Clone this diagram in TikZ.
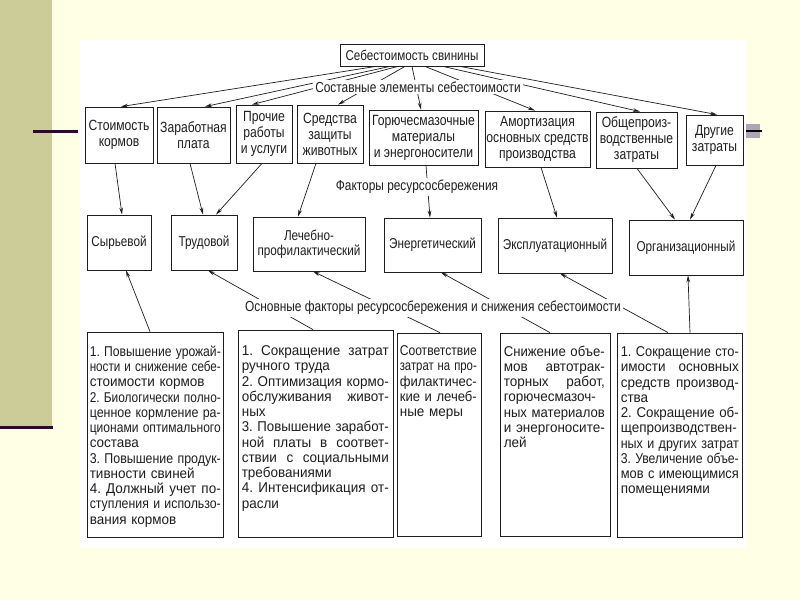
\documentclass[tikz,border=0pt]{standalone}
\usepackage{fontspec}
\usepackage{graphicx}
\setmainfont{Liberation Sans}[FakeStretch=0.82]
\newfontfamily\bodyfont{Liberation Sans}[FakeStretch=0.95]
\usetikzlibrary{arrows.meta,calc}
\pgfdeclarelayer{bg}
\pgfdeclarelayer{lines}
\pgfsetlayers{bg,lines,main}
\definecolor{slidebg}{HTML}{FFFFE6}
\definecolor{strip}{HTML}{CCCC99}
\definecolor{darkp}{HTML}{2E0A28}
\definecolor{graysq}{HTML}{ABA5B5}
\definecolor{ink}{HTML}{1E1E1E}
\newlength\jw
\newcommand\jl[1]{\setbox0=\hbox{#1}%
  \ifdim\wd0>\jw\leavevmode\resizebox{\jw}{\height}{\box0}%
  \else\makebox[\jw][s]{\spaceskip=0.26em plus 1fil\relax\xspaceskip=\spaceskip #1}\fi}
\tikzset{
  box/.style={draw=ink, line width=0.8pt, fill=white, align=center, inner sep=1pt, text=ink,
              font=\fontsize{14.8}{16}\selectfont},
  fbox/.style={draw=ink, line width=0.8pt, fill=white, align=center, inner sep=1pt, text=ink,
              font=\fontsize{14.3}{15.5}\selectfont},
  bigbox/.style={draw=ink, line width=0.8pt, fill=white, inner sep=0pt},
  bodytext/.style={align=left, inner sep=0pt, text=ink, anchor=north west,
              font=\bodyfont\fontsize{14.2}{15.25}\selectfont\frenchspacing,
              text width=#1, execute at begin node={\setlength{\jw}{#1}}},
  lbl/.style={fill=white, inner sep=2pt, text=ink, font=\fontsize{14.5}{15}\selectfont},
  ttl/.style={draw=ink, line width=0.8pt, fill=white, inner sep=2pt, text=ink,
              font=\fontsize{14.2}{15}\selectfont},
  conn/.style={draw=ink, line width=0.7pt, -{Stealth[length=7pt,width=3.6pt]}}
}
\begin{document}
\begin{tikzpicture}[x=1pt,y=-1pt]
\begin{pgfonlayer}{bg}
  \fill[slidebg] (0,0) rectangle (800,600);
  \fill[strip] (0,0) rectangle (52,426);
  \fill[darkp] (0,425.5) rectangle (53,428.5);
  \fill[white] (80,40) rectangle (746,548);
  \fill[graysq] (746,124) rectangle (760,138);
\end{pgfonlayer}
\useasboundingbox (0,0) rectangle (800,600);
\draw[darkp, line width=3pt] (33,131) -- (78,131);
\draw[black, line width=2.5pt] (746,131) -- (762,131);

% title
\node[ttl, minimum width=144pt, minimum height=22pt] (title) at (412,55) {Себестоимость свинины};

% row 1
\node[box, minimum width=68pt, minimum height=56pt] (kor) at (119,135) {Стоимость\\кормов};
\node[box, minimum width=73pt, minimum height=56pt] (zp) at (193.5,135) {Заработная\\плата};
\node[box, minimum width=56pt, minimum height=58pt] (pr) at (264,134) {Прочие\\работы\\и услуги};
\node[box, minimum width=66pt, minimum height=58pt] (sz) at (330,134) {Средства\\защиты\\животных};
\node[box, minimum width=109pt, minimum height=55pt] (gsm) at (423.5,137.5) {Горючесмазочные\\материалы\\и энергоносители};
\node[box, minimum width=105pt, minimum height=56pt] (am) at (537.5,139) {Амортизация\\основных средств\\производства};
\node[box, minimum width=81pt, minimum height=56pt] (op) at (636.5,140) {Общепроиз-\\водственные\\затраты};
\node[box, minimum width=57pt, minimum height=50pt] (dr) at (714.5,140) {Другие\\затраты};

% row 2
\node[fbox, minimum width=64pt, minimum height=55pt] (syr) at (119,242.5) {Сырьевой};
\node[fbox, minimum width=66pt, minimum height=55pt] (trud) at (204,242.5) {Трудовой};
\node[fbox, minimum width=112pt, minimum height=54pt] (lech) at (309,244) {Лечебно-\\профилактический};
\node[fbox, minimum width=97pt, minimum height=54pt] (en) at (432.5,245) {Энергетический};
\node[fbox, minimum width=114pt, minimum height=55pt] (ex) at (555,245.5) {Эксплуатационный};
\node[fbox, minimum width=114pt, minimum height=55pt] (org) at (686,247.5) {Организационный};

% row 3 boxes
\node[bigbox, minimum width=136pt, minimum height=205pt] (b1) at (155,434.5) {};
\node[bigbox, minimum width=155pt, minimum height=207pt] (b2) at (315.5,433.5) {};
\node[bigbox, minimum width=84pt, minimum height=203pt] (b3) at (439,434.5) {};
\node[bigbox, minimum width=110pt, minimum height=203pt] (b4) at (555,434.5) {};
\node[bigbox, minimum width=125pt, minimum height=204pt] (b5) at (679.5,435) {};

\node[bodytext=131pt] (t1) at ($(b1.north west)+(3,14)$)
 {\jl{1. Повышение урожай-}\\
  \jl{ности и снижение себе-}\\
  стоимости кормов\\
  \jl{2. Биологически полно-}\\
  \jl{ценное кормление ра-}\\
  \jl{ционами оптимального}\\
  состава\\
  \jl{3. Повышение продук-}\\
  тивности свиней\\
  \jl{4. Должный учет по-}\\
  \jl{ступления и использо-}\\
  вания кормов};
\node[bodytext=147pt] (t2) at ($(b2.north west)+(4,16)$)
 {\jl{1. Сокращение затрат}\\
  ручного труда\\
  \jl{2. Оптимизация кормо-}\\
  \jl{обслуживания живот-}\\
  ных\\
  \jl{3. Повышение заработ-}\\
  \jl{ной платы в соответ-}\\
  \jl{ствии с социальными}\\
  требованиями\\
  \jl{4. Интенсификация от-}\\
  расли};
\node[bodytext=77pt] (t3) at ($(b3.north west)+(3,13)$)
 {\jl{Соответствие}\\
  \jl{затрат на про-}\\
  \jl{филактичес-}\\
  \jl{кие и лечеб-}\\
  ные меры};
\node[bodytext=101pt] (t4) at ($(b4.north west)+(4,13)$)
 {\jl{Снижение объе-}\\
  \jl{мов автотрак-}\\
  \jl{торных работ,}\\
  \jl{горючесмазоч-}\\
  \jl{ных материалов}\\
  \jl{и энергоносите-}\\
  лей};
\node[bodytext=118pt] (t5) at ($(b5.north west)+(4,14)$)
 {\jl{1. Сокращение сто-}\\
  \jl{имости основных}\\
  \jl{средств производ-}\\
  ства\\
  \jl{2. Сокращение об-}\\
  \jl{щепроизводствен-}\\
  \jl{ных и других затрат}\\
  \jl{3. Увеличение объе-}\\
  \jl{мов с имеющимися}\\
  помещениями};

% labels
\node[lbl] (l1) at (418,87) {Составные элементы себестоимости};
\node[lbl] (l2) at (417,187) {Факторы ресурсосбережения};
\node[lbl] (l3) at (433,308) {Основные факторы ресурсосбережения и снижения себестоимости};

\begin{pgfonlayer}{lines}
  % title -> row 1
  \draw[conn] ([xshift=-36pt]title.south) -- ([xshift=2pt]kor.north);
  \draw[conn] ([xshift=-22pt]title.south) -- ([xshift=11.5pt]zp.north);
  \draw[conn] ([xshift=-14pt]title.south) -- ([xshift=-12pt]pr.north);
  \draw[conn] ([xshift=-7pt]title.south) -- ([xshift=8pt]sz.north);
  \draw[conn] (title.south) -- ([xshift=-2.5pt]gsm.north);
  \draw[conn] ([xshift=13pt]title.south) -- ([xshift=-2.5pt]am.north);
  \draw[conn] ([xshift=31pt]title.south) -- ([xshift=3.5pt]op.north);
  \draw[conn] ([xshift=48pt]title.south) -- ([xshift=2.5pt]dr.north);
  % row 1 -> row 2
  \draw[conn] ([xshift=-4pt]kor.south) -- ([xshift=3pt]syr.north);
  \draw[conn] ([xshift=-3.5pt]zp.south) -- ([xshift=-1pt]trud.north);
  \draw[conn] ([xshift=-2pt]pr.south) -- ([xshift=12pt]trud.north);
  \draw[conn] ([xshift=-14pt]sz.south) -- ([xshift=-11pt]lech.north);
  \draw[conn] ([xshift=2.5pt]gsm.south) -- ([xshift=-2.5pt]en.north);
  \draw[conn] ([xshift=3.5pt]am.south) -- ([xshift=2pt]ex.north);
  \draw[conn] ([xshift=0.5pt]op.south) -- ([xshift=-11pt]org.north);
  \draw[conn] ([xshift=1.5pt]dr.south) -- ([xshift=4pt]org.north);
  % row 3 -> row 2
  \draw[conn] ([xshift=-5pt]b1.north) -- ([xshift=7pt]syr.south);
  \draw[conn] ([xshift=-2.5pt]b2.north) -- ([xshift=4pt]trud.south);
  \draw[conn] ([xshift=1pt]b3.north) -- ([xshift=4pt]lech.south);
  \draw[conn] ([xshift=-5pt]b4.north) -- ([xshift=8.5pt]en.south);
  \draw[conn] ([xshift=-11.5pt]b5.north) -- ([xshift=5pt]ex.south);
  \draw[conn] ([xshift=10.5pt]b5.north) -- ([xshift=2pt]org.south);
\end{pgfonlayer}
\end{tikzpicture}
\end{document}
